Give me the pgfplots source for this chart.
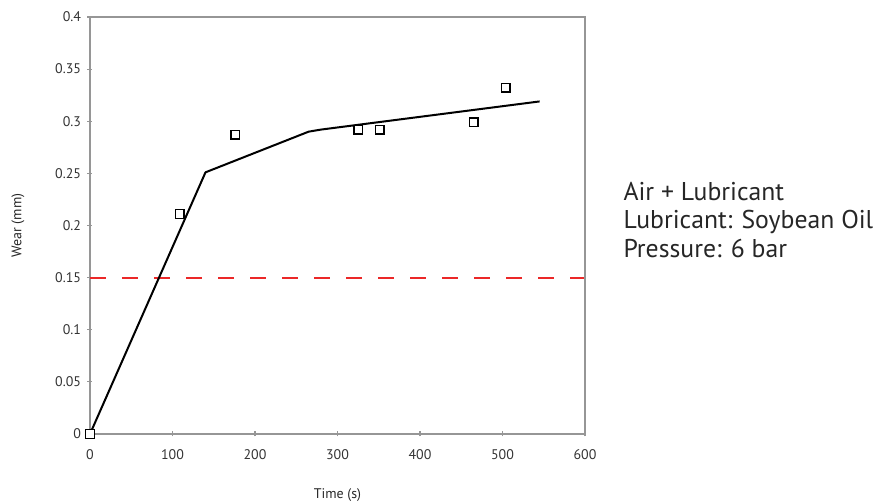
\documentclass[border=0pt]{standalone}
\usepackage{fontspec}
\setmainfont{PT Sans}
\usepackage{pgfplots}
\pgfplotsset{compat=1.18}
\definecolor{axgray}{RGB}{150,150,150}
\definecolor{dashred}{RGB}{235,40,40}
\begin{document}
\begin{tikzpicture}[x=1bp,y=1bp]
\useasboundingbox (-90,-70) rectangle (788,434);
\begin{axis}[
  at={(0,0)}, anchor=south west,
  scale only axis, width=495bp, height=417bp,
  xmin=0, xmax=600, ymin=0, ymax=0.4,
  xtick={0,100,...,600},
  ytick={0,0.05,...,0.4},
  yticklabels={0,0.05,0.1,0.15,0.2,0.25,0.3,0.35,0.4},
  scaled y ticks=false,
  /pgf/number format/assume math mode=true,
  tick label style={font=\fontsize{14}{16}\selectfont, text=black!80},
  tick align=outside, tick pos=left,
  major tick length=5bp,
  every tick/.style={axgray, line width=1.2bp},
  axis lines=left,
  axis line style={axgray, line width=2bp, -},
  after end axis/.code={
    \draw[axgray, line width=1.2bp] (rel axis cs:0,1) -- (rel axis cs:1,1) -- (rel axis cs:1,0);
  },
  xlabel={Time (s)}, ylabel={Wear (mm)},
  label style={font=\fontsize{14}{16}\selectfont, text=black!85},
  xlabel style={at={(axis description cs:0.5,0)}, anchor=center, yshift=-61bp},
  ylabel style={at={(axis description cs:-0.1455,0.5)}, anchor=center, rotate=0},
  xticklabel style={yshift=-10bp},
  yticklabel style={xshift=-3bp},
  clip=false,
]
\addplot[dashred, line width=2bp, dash pattern=on 16bp off 16bp, forget plot] coordinates {(0,0.15) (600,0.15)};
\addplot[black, line width=2bp, line join=round] coordinates {(0,0) (140,0.251) (265,0.290) (280,0.292) (545,0.319)};
\addplot[only marks, mark=square*, mark size=4.3bp, mark options={fill=white, draw=black, line width=1.5bp}] coordinates {
(0,0) (109,0.211) (176,0.287) (325,0.292) (351,0.292) (465,0.299) (504,0.332)};
\end{axis}
\node[anchor=west, align=left, font=\fontsize{25.8}{29}\selectfont, text=black!85] at (530,214) {Air + Lubricant\\Lubricant: Soybean Oil\\Pressure: 6 bar};
\end{tikzpicture}
\end{document}
